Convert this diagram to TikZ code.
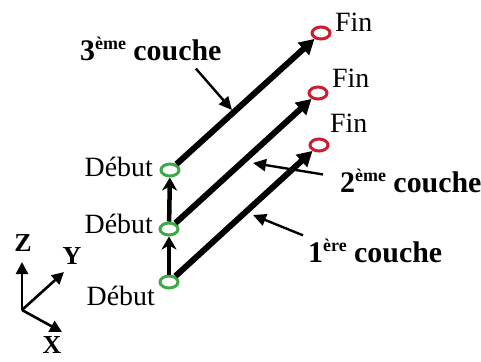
\documentclass[tikz,border=0pt]{standalone}
\usepackage{fontspec}
\setmainfont{Liberation Serif}
\usetikzlibrary{arrows.meta,positioning,shapes.geometric,calc}
\definecolor{debutgreen}{HTML}{3DA84A}
\definecolor{finred}{HTML}{C8202E}
\newcommand{\expo}[1]{\raisebox{11bp}{\fontsize{18}{18}\selectfont #1}}

\begin{document}
\begin{tikzpicture}[x=1bp, y=-1bp,
  debut/.style={ellipse, draw=debutgreen, line width=3bp, minimum width=18bp, minimum height=12bp, inner sep=0pt},
  fin/.style={ellipse, draw=finred, line width=3bp, minimum width=18bp, minimum height=12bp, inner sep=0pt},
  couche/.style={line width=6bp, -{Triangle[length=15bp,width=16bp]}},
  montee/.style={line width=4.5bp, -{Stealth[length=13bp,width=15bp,inset=4bp]}},
  renvoi/.style={line width=2.4bp, -{Triangle[length=13bp,width=12bp]}},
  axe/.style={line width=2.6bp, -{Triangle[length=12bp,width=12bp]}},
  txt/.style={font=\fontsize{28}{30}\selectfont, inner sep=0pt},
  titre/.style={font=\fontsize{30}{32}\selectfont\bfseries, inner sep=0pt},
  lettre/.style={font=\fontsize{26}{28}\selectfont\bfseries, inner sep=0pt}]
  \useasboundingbox (0,0) rectangle (481,361);

  % debut / fin des couches
  \node[debut] (d1) at (169,282) {};
  \node[debut] (d2) at (169,229) {};
  \node[debut] (d3) at (170,170) {};
  \node[fin] (f1) at (319,145) {};
  \node[fin] (f2) at (318,93) {};
  \node[fin] (f3) at (321,33) {};

  \node[txt, anchor=base east] (td1) at (155,305) {Début};
  \node[txt, anchor=base east] (td2) at (153,233) {Début};
  \node[txt, anchor=base east] (td3) at (153,176) {Début};
  \node[txt, anchor=base west] (tf1) at (330,132) {Fin};
  \node[txt, anchor=base west] (tf2) at (332,87) {Fin};
  \node[txt, anchor=base west] (tf3) at (335,31) {Fin};

  \draw[couche] (d1) -- (f1);
  \draw[couche] (d2) -- (f2);
  \draw[couche] (d3) -- (f3);
  \draw[montee] (d1) -- (d2);
  \draw[montee] (d2) -- (d3);

  % noms des couches
  \node[titre, anchor=base west] (c3) at (80,60) {3\expo{ème} couche};
  \node[titre, anchor=base west] (c2) at (340,192) {2\expo{ème} couche};
  \node[titre, anchor=base west] (c1) at (308,262) {1\expo{ère} couche};
  \coordinate (p3) at (232,110);
  \coordinate (p2) at (253,163);
  \coordinate (p1) at (253,215);
  \draw[renvoi] ([xshift=45bp,yshift=-8bp]c3.south) -- (p3);
  \draw[renvoi] ([xshift=-17bp,yshift=6bp]c2.west) -- (p2);
  \draw[renvoi] ([xshift=-5bp,yshift=3bp]c1.north west) -- (p1);

  % repere
  \coordinate (o) at (22,310);
  \coordinate (az) at (22,262);
  \coordinate (ay) at (64,272);
  \coordinate (ax) at (62,332);
  \draw[axe] (o) -- (az);
  \draw[axe] (o) -- (ay);
  \draw[axe] (o) -- (ax);
  \node[lettre] (lz) at (23,243) {Z};
  \node[lettre] (ly) at (72,256) {Y};
  \node[lettre] (lx) at (52,345) {X};
\end{tikzpicture}
\end{document}
